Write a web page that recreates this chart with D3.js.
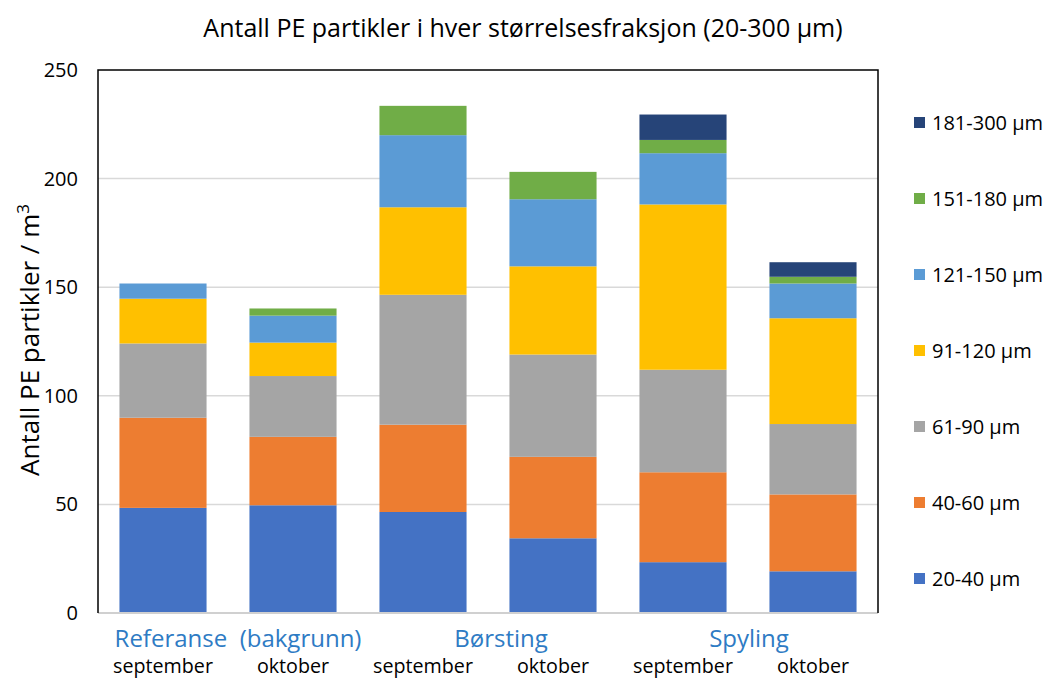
<!DOCTYPE html>
<html>
<head>
<meta charset="utf-8">
<script src="https://cdn.jsdelivr.net/npm/d3@7"></script>
<style>
  body { margin: 0; background: #fff; }
  text { font-family: "Open Sans", "Noto Sans", sans-serif; }
</style>
</head>
<body>
<div class="chart"></div>
<script>
var w = 1046;
var h = 680;
var margin = {top: 70, right: 168, bottom: 67, left: 98};

// data
var months = ["september", "oktober", "september", "oktober", "september", "oktober"];
var groups = ["Referanse  (bakgrunn)", "Børsting", "Spyling"];
var fractions = ["20-40 µm", "40-60 µm", "61-90 µm", "91-120 µm", "121-150 µm", "151-180 µm", "181-300 µm"];
var colors = ["#4472c4", "#ed7d31", "#a5a5a5", "#ffc000", "#5b9bd5", "#70ad47", "#264478"];
var s20_40   = [48.4, 49.6, 46.5, 34.4, 23.4, 19.2];
var s40_60   = [41.5, 31.5, 40.2, 37.5, 41.4, 35.4];
var s61_90   = [34.2, 28.0, 59.8, 47.1, 47.2, 32.4];
var s91_120  = [20.6, 15.4, 40.3, 40.6, 76.1, 48.7];
var s121_150 = [7.0, 12.4, 33.2, 30.9, 23.6, 16.0];
var s151_180 = [0, 3.3, 13.5, 12.6, 6.1, 3.1];
var s181_300 = [0, 0, 0, 0, 11.7, 6.7];
var yTicks = [0, 50, 100, 150, 200, 250];

var series = [s20_40, s40_60, s61_90, s91_120, s121_150, s151_180, s181_300];
var table = months.map(function(m, i) {
  var row = {idx: i};
  fractions.forEach(function(f, j) { row[f] = series[j][i]; });
  return row;
});
var stacked = d3.stack().keys(fractions)(table);

var svg = d3.select(".chart")
            .append("svg")
            .attr("width", w)
            .attr("height", h);

var x = d3.scaleBand()
  .domain(d3.range(months.length))
  .range([margin.left, w - margin.right])
  .paddingInner(0.33)
  .paddingOuter(0.165);

var y = d3.scaleLinear()
  .domain([0, 250])
  .range([h - margin.bottom, margin.top]);

// gridlines
svg.append("g")
  .selectAll("line")
  .data(yTicks.slice(1, -1))
  .enter().append("line")
  .attr("x1", margin.left).attr("x2", w - margin.right)
  .attr("y1", d => y(d)).attr("y2", d => y(d))
  .attr("stroke", "#d9d9d9").attr("stroke-width", 1.5);

// bars
svg.append("g")
  .selectAll("g")
  .data(stacked)
  .enter().append("g")
  .attr("fill", (d, i) => colors[i])
  .selectAll("rect")
  .data(d => d)
  .enter().append("rect")
  .attr("x", d => x(d.data.idx))
  .attr("width", x.bandwidth())
  .attr("y", d => y(d[1]))
  .attr("height", d => y(d[0]) - y(d[1]));

// frame
svg.append("line")
  .attr("x1", margin.left).attr("x2", w - margin.right)
  .attr("y1", y(0)).attr("y2", y(0))
  .attr("stroke", "#d0d0d0").attr("stroke-width", 2);
svg.append("path")
  .attr("d", "M" + margin.left + "," + y(0) + "V" + y(250) + "H" + (w - margin.right) + "V" + y(0))
  .attr("fill", "none").attr("stroke", "#000").attr("stroke-width", 1.5);

// y axis labels
svg.append("g")
  .selectAll("text")
  .data(yTicks)
  .enter().append("text")
  .attr("x", 78).attr("y", d => y(d))
  .attr("dy", "0.35em")
  .attr("text-anchor", "end")
  .attr("font-size", 20)
  .attr("fill", "#000")
  .text(d => d);

// month labels
svg.append("g")
  .selectAll("text")
  .data(months)
  .enter().append("text")
  .attr("x", (d, i) => x(i) + x.bandwidth() / 2)
  .attr("y", 673)
  .attr("text-anchor", "middle")
  .attr("font-size", 19.7)
  .attr("fill", "#000")
  .text(d => d);

// group labels
var groupShift = [10, 13, 1];
svg.append("g")
  .selectAll("text")
  .data(groups)
  .enter().append("text")
  .attr("x", (d, i) => (x(2 * i) + x(2 * i + 1) + x.bandwidth()) / 2 + groupShift[i])
  .attr("y", 647)
  .attr("text-anchor", "middle")
  .attr("font-size", 24)
  .style("white-space", "pre")
  .attr("fill", "#2e7bc4")
  .text(d => d);

// title
svg.append("text")
  .attr("x", 523).attr("y", 37)
  .attr("text-anchor", "middle")
  .attr("font-size", 25)
  .attr("fill", "#000")
  .text("Antall PE partikler i hver størrelsesfraksjon (20-300 µm)");

// y title
var yt = svg.append("text")
  .attr("transform", "translate(39," + 340 + ") rotate(-90)")
  .attr("text-anchor", "middle")
  .attr("font-size", 26)
  .attr("fill", "#000");
yt.append("tspan").text("Antall PE partikler / m");
yt.append("tspan").attr("dy", -10).attr("font-size", 17).text("3");

// legend
var legend = svg.append("g")
  .selectAll("g")
  .data(fractions.slice().reverse())
  .enter().append("g")
  .attr("transform", (d, i) => "translate(914," + (122.5 + i * 76) + ")");
legend.append("rect")
  .attr("x", 0).attr("y", -5.5)
  .attr("width", 11).attr("height", 11)
  .attr("fill", (d, i) => colors[colors.length - 1 - i]);
legend.append("text")
  .attr("x", 18).attr("dy", "0.35em")
  .attr("font-size", 20)
  .attr("fill", "#000")
  .text(d => d);
</script>
</body>
</html>
